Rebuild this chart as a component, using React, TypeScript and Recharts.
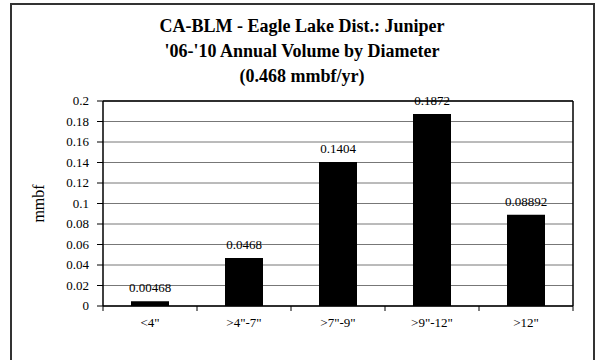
import React from 'react';
import { BarChart, Bar, XAxis, YAxis, CartesianGrid, LabelList, ReferenceLine } from 'recharts';

const categories = ['<4"', '>4"-7"', '>7"-9"', '>9"-12"', '>12"'];
const volumes = [0.00468, 0.0468, 0.1404, 0.1872, 0.08892];
const volumeLabels = ['0.00468', '0.0468', '0.1404', '0.1872', '0.08892'];
const yTicks = [0, 0.02, 0.04, 0.06, 0.08, 0.1, 0.12, 0.14, 0.16, 0.18, 0.2];
const titleLines = ['CA-BLM - Eagle Lake Dist.: Juniper', "'06-'10 Annual Volume by Diameter", '(0.468 mmbf/yr)'];
const yLabel = 'mmbf';

const data = categories.map((c, i) => ({ name: c, value: volumes[i], label: volumeLabels[i] }));

const FONT = 'Liberation Serif, Times New Roman, serif';
const textStyle = { fontFamily: FONT, fontSize: 13, fill: '#000' };

const XTick = (props: any) => {
  const { x, y, payload, index } = props;
  const half = payload && payload.offset ? payload.offset : 47;
  const last = index === categories.length - 1;
  return (
    <g>
      <line x1={x - half} x2={x - half} y1={y - 8} y2={y - 3} stroke="#000" strokeWidth={1} />
      {last && <line x1={x + half} x2={x + half} y1={y - 8} y2={y - 3} stroke="#000" strokeWidth={1} />}
      <text x={x} y={y + 13} textAnchor="middle" style={textStyle}>
        {payload.value}
      </text>
    </g>
  );
};

const YTick = (props: any) => {
  const { x, y, payload } = props;
  return (
    <text x={x} y={y} dy={4} textAnchor="end" style={textStyle}>
      {String(Number(Number(payload.value).toFixed(2)))}
    </text>
  );
};

const BarLabel = (props: any) => {
  const { x, y, width, value } = props;
  return (
    <text x={x + width / 2} y={y - 9} textAnchor="middle" style={textStyle}>
      {value}
    </text>
  );
};

export default function App() {
  return (
    <div style={{ position: 'fixed', left: 0, top: 0, width: 598, height: 360, overflow: 'hidden', background: '#fff' }}>
      <div
        style={{
          position: 'absolute',
          left: 10,
          top: 3,
          width: 581,
          height: 380,
          border: '2px solid #333',
        }}
      />
      <div
        style={{
          position: 'absolute',
          left: 0,
          top: 14,
          width: 604,
          textAlign: 'center',
          fontFamily: FONT,
          fontWeight: 'bold',
          fontSize: 18,
          lineHeight: '25px',
          color: '#000',
        }}
      >
        {titleLines.map((t) => (
          <div key={t}>{t}</div>
        ))}
      </div>
      <div style={{ position: 'absolute', left: 0, top: 0 }}>
        <BarChart width={598} height={360} data={data} margin={{ top: 101, right: 25, bottom: 24, left: 0 }}>
          <CartesianGrid horizontal vertical={false} stroke="#777" strokeWidth={1} />
          <CartesianGrid
            horizontal={false}
            vertical
            stroke="#000"
            strokeWidth={1.5}
            verticalCoordinatesGenerator={({ offset }: any) => [offset.left + offset.width]}
          />
          <XAxis
            dataKey="name"
            height={30}
            axisLine={{ stroke: '#000', strokeWidth: 1.5 }}
            tickLine={false}
            tick={<XTick />}
            interval={0}
          />
          <YAxis
            width={103}
            domain={[0, 0.2]}
            ticks={yTicks}
            interval={0}
            axisLine={{ stroke: '#000', strokeWidth: 1.5 }}
            tickLine={{ stroke: '#000' }}
            tickSize={6}
            tickMargin={8}
            tick={<YTick />}
            label={{ value: yLabel, angle: -90, position: 'insideLeft', dx: 33, dy: 0, style: { fontFamily: FONT, fontSize: 16, fill: '#000', textAnchor: 'middle' } }}
          />
          <ReferenceLine y={0.2} stroke="#000" strokeWidth={1.5} />
          <Bar dataKey="value" fill="#000" barSize={38} isAnimationActive={false}>
            <LabelList dataKey="label" content={<BarLabel />} />
          </Bar>
        </BarChart>
      </div>
    </div>
  );
}
